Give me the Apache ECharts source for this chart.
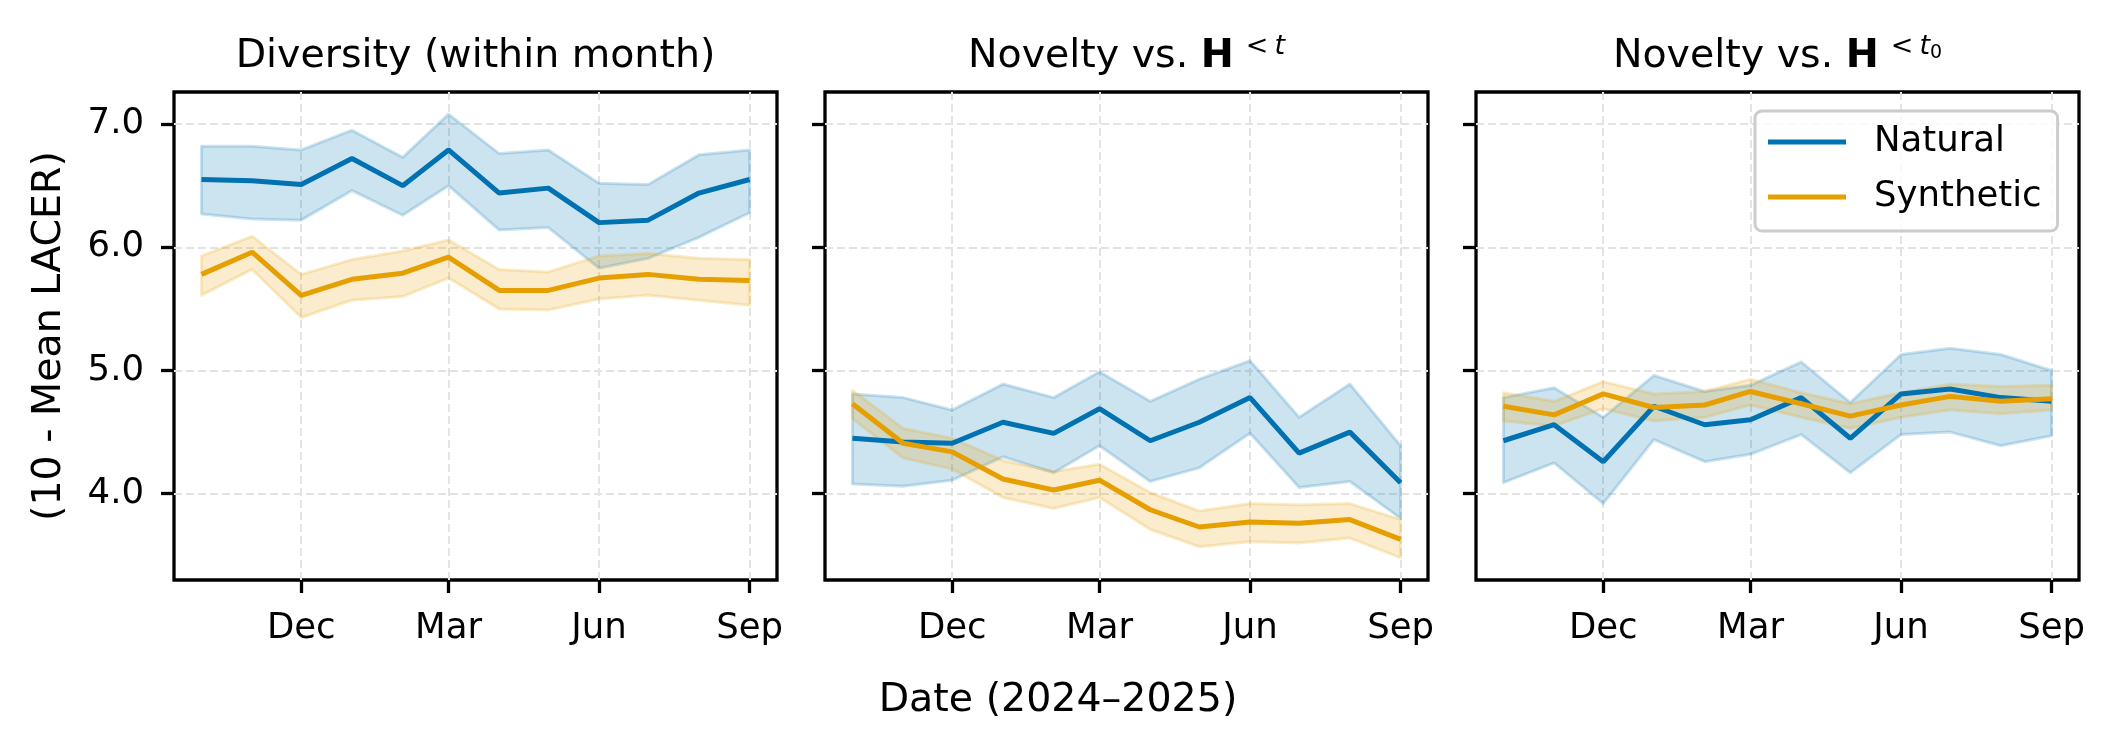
<!DOCTYPE html>
<html>
<head>
<meta charset="utf-8">
<script src="https://cdn.jsdelivr.net/npm/echarts@6/dist/echarts.min.js"></script>
<style>
  html, body { margin: 0; padding: 0; background: #fff; }
  #chart { width: 2115px; height: 750px; }
</style>
</head>
<body>
<div id="chart"></div>
<script>
// months (one point per month)
const months = ['2024-10-01', '2024-11-01', '2024-12-01', '2025-01-01', '2025-02-01', '2025-03-01',
  '2025-04-01', '2025-05-01', '2025-06-01', '2025-07-01', '2025-08-01', '2025-09-01']
const tickMonths = ['2024-12-01', '2025-03-01', '2025-06-01', '2025-09-01']
const tickNames = ['Dec', 'Mar', 'Jun', 'Sep']
const yTicks = [4.0, 5.0, 6.0, 7.0]

// Diversity (within month)
const divNatMean = [6.55, 6.54, 6.51, 6.72, 6.50, 6.79, 6.44, 6.48, 6.20, 6.22, 6.44, 6.55]
const divNatLow = [6.27, 6.23, 6.22, 6.46, 6.26, 6.50, 6.14, 6.16, 5.83, 5.91, 6.08, 6.28]
const divNatHigh = [6.82, 6.82, 6.79, 6.95, 6.73, 7.08, 6.76, 6.79, 6.52, 6.51, 6.75, 6.79]
const divSynMean = [5.78, 5.96, 5.61, 5.74, 5.79, 5.92, 5.65, 5.65, 5.75, 5.78, 5.74, 5.73]
const divSynLow = [5.61, 5.82, 5.43, 5.57, 5.60, 5.75, 5.50, 5.49, 5.58, 5.61, 5.57, 5.53]
const divSynHigh = [5.93, 6.09, 5.78, 5.90, 5.97, 6.06, 5.82, 5.80, 5.93, 5.95, 5.91, 5.90]

// Novelty vs H^{<t}
const novNatMean = [4.45, 4.42, 4.41, 4.58, 4.49, 4.69, 4.43, 4.58, 4.78, 4.33, 4.50, 4.09]
const novNatLow = [4.08, 4.06, 4.11, 4.30, 4.17, 4.39, 4.10, 4.21, 4.49, 4.05, 4.10, 3.80]
const novNatHigh = [4.81, 4.78, 4.68, 4.89, 4.78, 4.99, 4.75, 4.93, 5.08, 4.62, 4.89, 4.39]
const novSynMean = [4.73, 4.41, 4.34, 4.12, 4.03, 4.11, 3.87, 3.73, 3.77, 3.76, 3.79, 3.63]
const novSynLow = [4.61, 4.29, 4.20, 3.97, 3.88, 3.97, 3.71, 3.57, 3.61, 3.60, 3.64, 3.48]
const novSynHigh = [4.84, 4.53, 4.45, 4.27, 4.18, 4.24, 4.01, 3.86, 3.92, 3.91, 3.92, 3.79]

// Novelty vs H^{<t0}
const nov0NatMean = [4.43, 4.56, 4.26, 4.71, 4.56, 4.60, 4.78, 4.45, 4.81, 4.85, 4.78, 4.75]
const nov0NatLow = [4.09, 4.25, 3.92, 4.44, 4.26, 4.32, 4.48, 4.17, 4.48, 4.50, 4.39, 4.47]
const nov0NatHigh = [4.78, 4.86, 4.62, 4.96, 4.83, 4.88, 5.07, 4.74, 5.13, 5.18, 5.13, 5.00]
const nov0SynMean = [4.71, 4.64, 4.81, 4.70, 4.72, 4.83, 4.73, 4.63, 4.72, 4.79, 4.75, 4.77]
const nov0SynLow = [4.59, 4.55, 4.69, 4.59, 4.62, 4.72, 4.62, 4.53, 4.62, 4.68, 4.65, 4.68]
const nov0SynHigh = [4.82, 4.75, 4.91, 4.81, 4.83, 4.93, 4.82, 4.73, 4.82, 4.89, 4.87, 4.88]

const FONT = 'DejaVu Sans'
const BLUE = '#0072B2'
const ORANGE = '#E69F00'

const gridLefts = [174, 825, 1476]
const gridTop = 92
const gridW = 603
const gridH = 488

const DAY = 864e5
const xMin = Date.parse(months[0]) - 16.75 * DAY
const xMax = Date.parse(months[months.length - 1]) + 16.75 * DAY
const tickValues = tickMonths.map(d => Date.parse(d))

const pts = vals => months.map((m, i) => [Date.parse(m), vals[i]])

// shaded band (fill_between) drawn as one polygon through the axis scales
function bandSeries(p, lo, hi, rgb) {
  const rows = months.map((m, i) => [Date.parse(m), lo[i], hi[i]])
  return {
    type: 'custom', xAxisIndex: p, yAxisIndex: p, z: 1, silent: true, clip: true,
    data: rows, encode: { x: 0, y: [1, 2] },
    renderItem: (params, api) => {
      if (params.dataIndex !== 0) return
      const top = rows.map(r => api.coord([r[0], r[2]]))
      const bot = rows.map(r => api.coord([r[0], r[1]])).reverse()
      return {
        type: 'polygon',
        shape: { points: top.concat(bot) },
        style: { fill: 'rgba(' + rgb + ', 0.2)', stroke: 'rgba(' + rgb + ', 0.2)', lineWidth: 3, lineJoin: 'round' }
      }
    }
  }
}

function panel(p, nm, nl, nh, sm, sl, sh) {
  return [
    bandSeries(p, nl, nh, '0, 114, 178'),
    bandSeries(p, sl, sh, '230, 159, 0'),
    { type: 'line', name: 'Natural', xAxisIndex: p, yAxisIndex: p, data: pts(nm), color: BLUE,
      symbol: 'none', z: 3, lineStyle: { width: 5 } },
    { type: 'line', name: 'Synthetic', xAxisIndex: p, yAxisIndex: p, data: pts(sm), color: ORANGE,
      symbol: 'none', z: 4, lineStyle: { width: 5 } }
  ]
}

const gridLine = { show: true, lineStyle: { color: '#e3e3e3', width: 2, type: [8, 4] } }
const tick = { show: true, length: 13, lineStyle: { color: '#000', width: 3.3 } }

const chart = echarts.init(document.getElementById('chart'))

const titleRich = (raise) => ({
  n: { fontSize: 39.5, fontFamily: FONT, lineHeight: 48, color: '#000' },
  b: { fontSize: 39.5, fontFamily: FONT, fontWeight: 'bold', lineHeight: 48, color: '#000' },
  r: { fontSize: 27, fontFamily: FONT, lineHeight: 48 - raise, verticalAlign: 'top', padding: [0, 6, 0, 12], color: '#000' },
  i: { fontSize: 27, fontFamily: FONT, fontStyle: 'italic', lineHeight: 48 - raise, verticalAlign: 'top', color: '#000' },
  s: { fontSize: 19, fontFamily: FONT, verticalAlign: 'top', padding: [11, 0, 0, 0], color: '#000' }
})

chart.setOption({
  animation: false,
  textStyle: { fontFamily: FONT },
  grid: gridLefts.map(l => ({
    left: l, top: gridTop, width: gridW, height: gridH,
    show: true, borderColor: '#000', borderWidth: 3.3, backgroundColor: 'transparent',
    outerBoundsMode: 'none', containLabel: false
  })),
  xAxis: gridLefts.map((l, p) => ({
    type: 'value', gridIndex: p, min: xMin, max: xMax,
    axisLine: { show: false },
    axisTick: { ...tick, customValues: tickValues },
    axisLabel: {
      customValues: tickValues, margin: 31, fontSize: 35.5, color: '#000', fontFamily: FONT,
      formatter: v => tickNames[tickValues.findIndex(t => Math.abs(t - v) < 1000)] || ''
    },
    splitLine: gridLine
  })),
  yAxis: gridLefts.map((l, p) => ({
    type: 'value', gridIndex: p, min: 3.30, max: 7.26,
    axisLine: { show: false },
    axisTick: { ...tick, customValues: yTicks },
    axisLabel: {
      show: p === 0, customValues: yTicks, margin: 30, fontSize: 35.5, color: '#000', fontFamily: FONT,
      formatter: v => v.toFixed(1)
    },
    splitLine: gridLine,
    name: p === 0 ? '(10 - Mean LACER)' : '',
    nameLocation: 'middle', nameRotate: 90, nameGap: 104,
    nameTextStyle: { fontSize: 39.5, color: '#000', fontFamily: FONT }
  })),
  legend: {
    data: ['Natural', 'Synthetic'],
    orient: 'vertical',
    left: 1755, top: 111,
    icon: 'rect', itemWidth: 78, itemHeight: 5, itemGap: 19,
    padding: [13, 16, 16, 13],
    backgroundColor: 'rgba(255, 255, 255, 0.8)',
    borderColor: '#cccccc', borderWidth: 3, borderRadius: 7,
    textStyle: { fontSize: 35.5, color: '#000', fontFamily: FONT, padding: [0, 0, 0, 23] },
    selectedMode: false
  },
  graphic: [
    { type: 'text', x: gridLefts[0] + gridW / 2, y: 57,
      style: { text: 'Diversity (within month)', fontSize: 39.5, fontFamily: FONT, fill: '#000',
        align: 'center', verticalAlign: 'middle' } },
    { type: 'text', x: gridLefts[1] + gridW / 2, y: 57,
      style: { text: '{n|Novelty vs. }{b|H}{r|<}{i|t}', rich: titleRich(21),
        align: 'center', verticalAlign: 'middle' } },
    { type: 'text', x: gridLefts[2] + gridW / 2, y: 57,
      style: { text: '{n|Novelty vs. }{b|H}{r|<}{i|t}{s|0}', rich: titleRich(16),
        align: 'center', verticalAlign: 'middle' } },
    { type: 'text', x: 1058, y: 701,
      style: { text: 'Date (2024\u20132025)', fontSize: 39.5, fontFamily: FONT, fill: '#000',
        align: 'center', verticalAlign: 'middle' } }
  ],
  series: [
    ...panel(0, divNatMean, divNatLow, divNatHigh, divSynMean, divSynLow, divSynHigh),
    ...panel(1, novNatMean, novNatLow, novNatHigh, novSynMean, novSynLow, novSynHigh),
    ...panel(2, nov0NatMean, nov0NatLow, nov0NatHigh, nov0SynMean, nov0SynLow, nov0SynHigh)
  ]
})
</script>
</body>
</html>
